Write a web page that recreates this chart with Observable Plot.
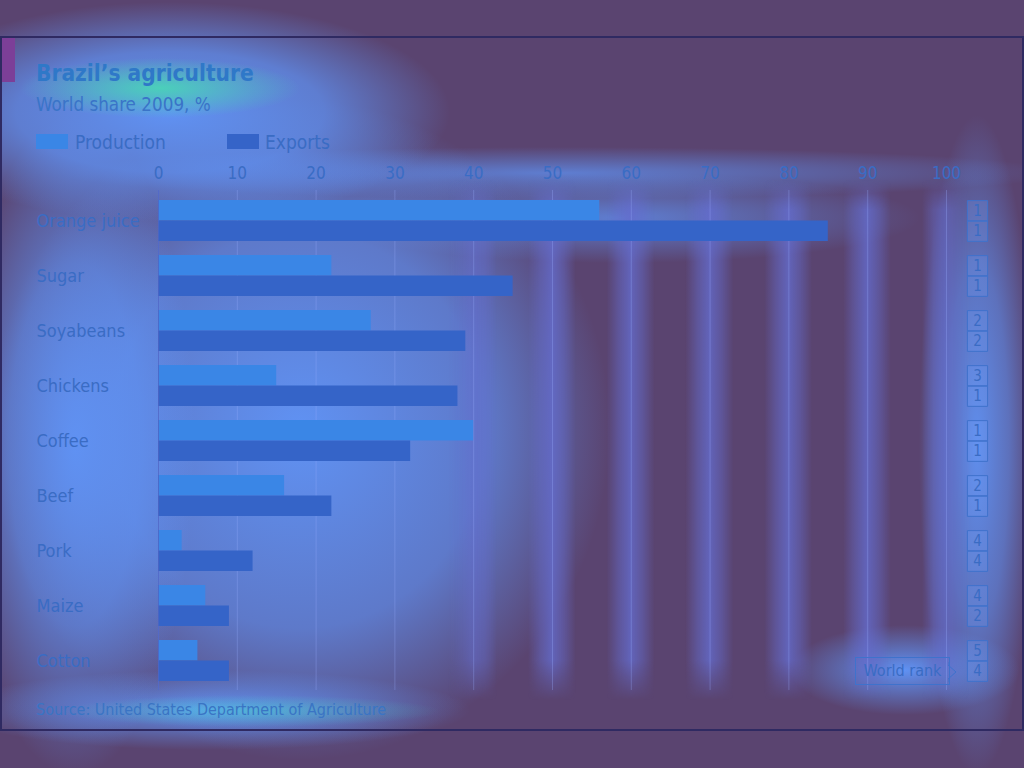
<!DOCTYPE html>
<html>
<head>
<meta charset="utf-8">
<script src="https://cdn.jsdelivr.net/npm/d3@7"></script>
<script src="https://cdn.jsdelivr.net/npm/@observablehq/plot@0.6"></script>
<style>
  html, body { margin: 0; padding: 0; }
  body {
    width: 1024px; height: 768px; overflow: hidden; position: relative;
    font-family: "DejaVu Sans Condensed", "DejaVu Sans", sans-serif;
    background-color: #5a4470;
    background-image:
      radial-gradient(ellipse 140px 30px at 160px 88px, rgba(70,225,175,0.8), rgba(70,225,175,0) 100%),
      radial-gradient(ellipse 190px 16px at 250px 711px, rgba(70,215,200,0.5), rgba(70,215,200,0) 100%),
      radial-gradient(ellipse 280px 110px at 170px 112px, rgba(96,150,250,0.95), rgba(96,150,250,0.7) 55%, rgba(96,150,250,0) 100%),
      radial-gradient(ellipse 120px 330px at 75px 445px, rgba(96,150,250,0.9), rgba(96,150,250,0.6) 55%, rgba(96,150,250,0) 100%),
      radial-gradient(ellipse 310px 330px at 300px 430px, rgba(96,150,250,0.95), rgba(96,150,250,0.65) 60%, rgba(96,150,250,0) 100%),
      radial-gradient(ellipse 300px 45px at 620px 218px, rgba(96,150,250,0.7), rgba(96,150,250,0) 100%),
      radial-gradient(ellipse 500px 26px at 560px 173px, rgba(96,150,250,0.7), rgba(96,150,250,0) 100%),
      radial-gradient(ellipse 58px 330px at 977px 445px, rgba(96,150,250,0.9), rgba(96,150,250,0.55) 55%, rgba(96,150,250,0) 100%),
      radial-gradient(ellipse 115px 45px at 905px 670px, rgba(96,150,250,0.95), rgba(96,150,250,0) 100%),
      radial-gradient(ellipse 260px 40px at 210px 710px, rgba(96,150,250,0.95), rgba(96,150,250,0) 100%);
  }
  #stripes {
    position: absolute; left: 433px; top: 180px; width: 553px; height: 520px;
    background-image: repeating-linear-gradient(90deg, rgba(100,108,205,0.8) 0px, rgba(100,108,205,0.45) 12px, rgba(88,68,112,0) 24px, rgba(88,68,112,0) 54.8px, rgba(100,108,205,0.45) 66.8px, rgba(100,108,205,0.8) 78.8px);
    background-position: 40px 0;
    -webkit-mask-image: linear-gradient(90deg, transparent 0px, black 60px, black 500px, transparent 553px), linear-gradient(180deg, transparent 0px, black 30px, black 480px, transparent 520px);
    -webkit-mask-composite: source-in;
    mask-image: linear-gradient(90deg, transparent 0px, black 60px, black 500px, transparent 553px), linear-gradient(180deg, transparent 0px, black 30px, black 480px, transparent 520px);
    mask-composite: intersect;
  }
  #panel {
    position: absolute; left: 0; top: 36px; width: 1020px; height: 691px;
    border: 2px solid #2f2a62;
  }
  #tag { position: absolute; left: 2px; top: 38px; width: 13px; height: 44px; background: #7c3f98; }
  #title { position: absolute; left: 36px; top: 59px; font-size: 22.5px; font-weight: bold; color: #2f78c8; line-height: 28px; white-space: nowrap; }
  #subtitle { position: absolute; left: 36px; top: 94px; font-size: 18.7px; color: #3a74c8; line-height: 22px; white-space: nowrap; }
  .legend { position: absolute; top: 131px; font-size: 19px; color: #3a6cc4; line-height: 22px; white-space: nowrap; }
  .sw { position: absolute; top: 134px; width: 32px; height: 15px; }
  #source { position: absolute; left: 36px; top: 700px; font-size: 16px; color: #3a74c4; line-height: 20px; white-space: nowrap; }
  #chart { position: absolute; left: 0; top: 140px; }
  #wr {
    position: absolute; left: 855px; top: 657px; width: 93px; height: 26px;
    border: 1px solid #3f72cc; font-size: 16px; color: #3a6cc4; line-height: 26px;
    text-align: center; box-sizing: content-box;
  }
  #wrarrow { position: absolute; left: 948px; top: 662px; }
</style>
</head>
<body>
<div id="stripes"></div>
<div id="panel"></div>
<div id="tag"></div>
<div id="title">Brazil’s agriculture</div>
<div id="subtitle">World share 2009, %</div>
<div class="sw" id="sw1" style="left:36px"></div>
<div class="legend" style="left:75px">Production</div>
<div class="sw" id="sw2" style="left:227px"></div>
<div class="legend" style="left:265px">Exports</div>
<div id="chart"></div>
<div id="wr">World rank</div>
<svg id="wrarrow" width="14" height="22"><path d="M0,0 L0,3 L8,10 L0,17 L0,20" fill="none" stroke="#3f72cc" stroke-width="1"/></svg>
<div id="source">Source: United States Department of Agriculture</div>

<script>
// ---- data ----
const categories = ["Orange juice", "Sugar", "Soyabeans", "Chickens", "Coffee", "Beef", "Pork", "Maize", "Cotton"];
const production = [56, 22, 27, 15, 40, 16, 3, 6, 5];
const exportsShare = [85, 45, 39, 38, 32, 22, 12, 9, 9];
const rankProduction = [1, 1, 2, 3, 1, 2, 4, 4, 5];
const rankExports = [1, 1, 2, 1, 1, 1, 4, 2, 4];
const xTicks = [0, 10, 20, 30, 40, 50, 60, 70, 80, 90, 100];

// ---- styles ----
const prodColor = "#3a86e6";
const expColor = "#3564c8";
const textColor = "#3a6cc4";
const boxColor = "#3f72cc";
const font = "'DejaVu Sans Condensed', 'DejaVu Sans', sans-serif";

document.getElementById("sw1").style.background = prodColor;
document.getElementById("sw2").style.background = expColor;

const rows = categories.map((c, i) => ({
  category: c,
  production: production[i],
  exports: exportsShare[i],
  rankP: String(rankProduction[i]),
  rankE: String(rankExports[i])
}));

const half = 20.5;

const chart = Plot.plot({
  width: 1024,
  height: 560,
  marginTop: 50,
  marginBottom: 10,
  marginLeft: 158,
  marginRight: 78,
  style: { background: "transparent", fontFamily: font, fontSize: "17px", color: textColor, overflow: "visible" },
  x: { domain: [0, 100], axis: "top", ticks: xTicks, tickSize: 0, tickPadding: 12, label: null, tickFormat: d => String(d) },
  y: { domain: categories, axis: null, paddingInner: 0.26, paddingOuter: 0.1345 },
  marks: [
    Plot.ruleX(xTicks, { stroke: "#9aafff", strokeOpacity: 0.3 }),
    Plot.barX(rows, { x: "production", y: "category", fill: prodColor, insetBottom: half }),
    Plot.barX(rows, { x: "exports", y: "category", fill: expColor, insetTop: half }),
    Plot.ruleX([0], { stroke: "#4d64c4", strokeOpacity: 0.8 }),
    Plot.text(rows, { y: "category", text: "category", frameAnchor: "left", textAnchor: "start", dx: -122, fontSize: 18, fill: textColor }),
    Plot.dot(rows, { y: "category", frameAnchor: "right", dx: 31, dy: -half / 2, symbol: "square", r: 11.4, stroke: boxColor, strokeWidth: 1, fill: "rgba(110,160,250,0.25)" }),
    Plot.dot(rows, { y: "category", frameAnchor: "right", dx: 31, dy: half / 2, symbol: "square", r: 11.4, stroke: boxColor, strokeWidth: 1, fill: "rgba(110,160,250,0.25)" }),
    Plot.text(rows, { y: "category", text: "rankP", frameAnchor: "right", textAnchor: "middle", dx: 31, dy: -half / 2, fontSize: 15, fill: textColor }),
    Plot.text(rows, { y: "category", text: "rankE", frameAnchor: "right", textAnchor: "middle", dx: 31, dy: half / 2, fontSize: 15, fill: textColor })
  ]
});
document.getElementById("chart").appendChild(chart);
</script>
</body>
</html>
